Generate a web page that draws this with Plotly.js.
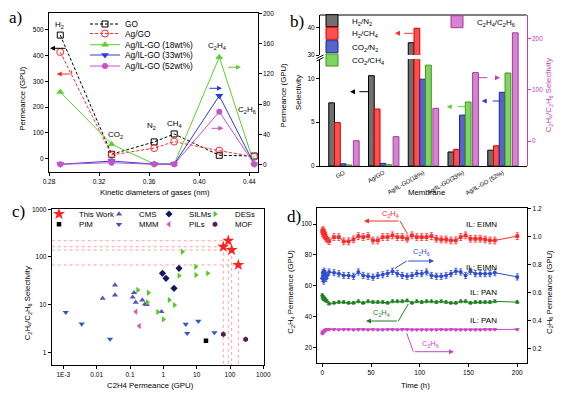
<!DOCTYPE html>
<html><head><meta charset="utf-8">
<script src="https://cdn.plot.ly/plotly-3.0.1.min.js"></script>
<style>html,body{margin:0;padding:0;background:#fff;}#chart{width:568px;height:397px;}</style>
</head><body><div id="chart"></div>
<script>
// ===== Panel a data =====
const gasLabels = ['H2','CO2','N2','CH4','C2H4','C2H6'];
const kineticDiam = [0.289, 0.330, 0.364, 0.380, 0.416, 0.444];
const permGO   = [480, 16, 64, 95, 12, 9];
const permAgGO = [414, 13, 40, 65, 30, 6];
const permIL18 = [96, 27, 1, 1, 142, 0.5];
const permIL33 = [0.5, 4.8, 0.8, 0.8, 91, 0.5];
const permIL52 = [0.5, 2.6, 0.5, 0.5, 70, 0.5];

// ===== Panel b data =====
const membranes = ['GO','Ag/GO','Ag/IL-GO(18%)','Ag/IL-GO(33%)','Ag/IL-GO (52%)'];
const selH2N2    = [7.2, 10.3, 34.5, 1.6, 1.8];
const selH2CH4   = [4.95, 6.5, 39.8, 1.9, 2.3];
const selCO2N2   = [0.25, 0.3, 9.9, 5.8, 8.4];
const selCO2CH4  = [0.12, 0.15, 11.5, 7.3, 10.6];
const selC2H4C2H6 = [0.6, 8.5, 64, 134, 212];

// ===== Panel c data =====
const thisWorkX = [63, 89, 112, 178];
const thisWorkY = [164, 219, 140, 68];
const pimX = [19];    const pimY = [1.75];
const cmsX = [0.0151, 0.0355, 0.0355, 0.132, 0.12, 0.148, 0.234, 0.28, 0.32, 0.88];
const cmsY = [13.6, 25.8, 15.9, 17.8, 14.3, 11.2, 12.5, 10.2, 10.0, 7.1];
const mmmX = [0.00118, 0.00355, 0.0251, 4.7, 5.2, 11.2, 34];
const mmmY = [6.9, 3.93, 1.9, 3.9, 2.5, 4.5, 2.6];
const silmX = [0.94, 1.2, 2.09, 2.95];
const silmY = [45.4, 35.7, 22, 57.8];
const pilX = [0.15, 0.19];
const pilY = [7.1, 3.56];
const desX = [0.17, 0.355, 0.33, 0.68, 1.0, 1.5, 2.15, 2.95, 3.7, 9.3, 9.5, 21.4];
const desY = [20.3, 17.8, 11.2, 7.0, 4.9, 12.5, 9.8, 40.5, 129, 62.5, 41.9, 45.4];
const mofX = [63, 295];
const mofY = [2.39, 1.87];

// ===== Panel d data =====
const timeH = [0,0.5,1,1.5,2,2.5,3,4,5,7,12,17,22,27,32,37,42,47,52,57,62,67,72,77,82,87,92,97,102,107,112,117,122,127,132,137,142,147,152,157,162,167,172,177,200];
const c2h4EIMN = [95.5,94,96,93,94.5,92,93.5,91,90, 89,91.6,91.6,88.8,88.8,90.1,92.2,91.6,92.2,89.4, 89.4,91.6,91.6,92.7,91.6,91.6,90.5,92.7,91.6,91.6, 91.6,92.2,90.5,90,90,89.4,89.5,91.6,92.7,90.5, 90.5,90.5,90,89.4,89.4, 92.2];
const c2h6EIMN = [0.70,0.74,0.72,0.68,0.75,0.71,0.73,0.70,0.72, 0.745,0.74,0.733,0.72,0.72,0.714,0.745,0.72,0.714,0.708, 0.72,0.725,0.735,0.75,0.733,0.72,0.714,0.72,0.735,0.733, 0.745,0.72,0.714,0.714,0.72,0.733,0.75,0.745,0.72,0.75, 0.733,0.733,0.733,0.733,0.74, 0.71];
const c2h4PAN = [54,52.5,53,51.5,52,51,51.5,50.5,50, 48.5,49,49.5,49.5,49,49,50,49,50,49.5, 49.5,49.5,49,50,50,50,50.5,49,50,49.5, 50,50,49.5,50,49.5,49,49,50,50,49, 49.5,49.5,49.5,49.5,50, 49.5];
const c2h6PAN = [0.305,0.31,0.315,0.32,0.32,0.325,0.33,0.333,0.335, 0.335,0.335,0.333,0.335,0.335,0.333,0.335,0.335,0.333,0.335, 0.333,0.333,0.335,0.335,0.333,0.335,0.335,0.333,0.333,0.333, 0.333,0.333,0.333,0.335,0.333,0.335,0.333,0.333,0.333,0.333, 0.333,0.333,0.335,0.335,0.335, 0.335];

// ===== helpers =====
const FONT = '"Liberation Sans", Arial, sans-serif';
const SERIF = '"Liberation Serif", "Times New Roman", serif';
const W = 568, H = 397;
const X = p => p / W;
const Y = p => 1 - p / H;
const RED='#ff2a2a', GREEN='#5ccf33', BLUE='#2b3fcf', PINK='#cc4fcc', BPINK='#c040b8';

function ax(extra) {
  return Object.assign({showgrid:false, zeroline:false, showline:true, linecolor:'#000', linewidth:1,
    ticks:'outside', ticklen:3, tickwidth:1, tickcolor:'#000',
    tickfont:{size:6.5, family:FONT, color:'#000'}, automargin:false, fixedrange:true}, extra);
}
function leg(xpx, ypx, size) {
  return {x:X(xpx), y:Y(ypx), xanchor:'left', yanchor:'middle', bgcolor:'rgba(0,0,0,0)', borderwidth:0,
    font:{family:FONT, size:size||8, color:'#000'}, tracegroupgap:0};
}
const annotations = [];
const shapes = [];
function txt(x, y, text, size, color, angle, family) {
  annotations.push({x:X(x), y:Y(y), xref:'paper', yref:'paper', text:text, showarrow:false,
    font:{family:family||FONT, size:size||8, color:color||'#000'}, textangle:angle||0,
    xanchor:'center', yanchor:'middle'});
}
function head(x0,y0,x1,y1,color) {
  annotations.push({x:X(x1), y:Y(y1), xref:'paper', yref:'paper', ax:x0-x1, ay:y0-y1,
    axref:'pixel', ayref:'pixel', showarrow:true, arrowhead:2, arrowsize:1, arrowwidth:1,
    arrowcolor:color, text:''});
}
function seg(x0,y0,x1,y1,color,dash) {
  shapes.push({type:'line', xref:'paper', yref:'paper', x0:X(x0), y0:Y(y0), x1:X(x1), y1:Y(y1),
    line:{color:color, width:1, dash:dash||'solid'}});
}

const traces = [];
// ===== Panel a traces =====
const dsh = '3px,2px';
traces.push({x:kineticDiam, y:permGO, xaxis:'x', yaxis:'y', mode:'lines+markers', name:'GO', legend:'legend',
  line:{color:'#000', dash:dsh, width:1}, marker:{symbol:'square-open', size:6, color:'#000', line:{width:1}}});
traces.push({x:kineticDiam, y:permAgGO, xaxis:'x', yaxis:'y', mode:'lines+markers', name:'Ag/GO', legend:'legend2',
  line:{color:RED, dash:dsh, width:1}, marker:{symbol:'circle-open', size:7, color:RED, line:{width:1}}});
traces.push({x:kineticDiam, y:permIL18, xaxis:'x', yaxis:'y2', mode:'lines+markers', name:'Ag/IL-GO (18wt%)', legend:'legend3',
  line:{color:GREEN, width:1}, marker:{symbol:'triangle-up', size:7, color:GREEN}});
traces.push({x:kineticDiam, y:permIL33, xaxis:'x', yaxis:'y2', mode:'lines+markers', name:'Ag/IL-GO (33wt%)', legend:'legend4',
  line:{color:BLUE, width:1}, marker:{symbol:'triangle-down', size:7, color:BLUE}});
traces.push({x:kineticDiam, y:permIL52, xaxis:'x', yaxis:'y2', mode:'lines+markers', name:'Ag/IL-GO (52wt%)', legend:'legend5',
  line:{color:PINK, width:1}, marker:{symbol:'circle', size:6, color:PINK}});

// ===== Panel b traces =====
const barW = 0.145;
const barDefs = [
  {y:selH2N2, name:'H<sub>2</sub>/N<sub>2</sub>', fill:'#707070', line:'#000', off:-0.38, lg:'legend6'},
  {y:selH2CH4, name:'H<sub>2</sub>/CH<sub>4</sub>', fill:'#ff5050', line:'#d00000', off:-0.235, lg:'legend7'},
  {y:selCO2N2, name:'CO<sub>2</sub>/N<sub>2</sub>', fill:'#5a64c8', line:'#1f2a8a', off:-0.09, lg:'legend8'},
  {y:selCO2CH4, name:'CO<sub>2</sub>/CH<sub>4</sub>', fill:'#80d460', line:'#3a9a1a', off:0.055, lg:'legend9'}
];
barDefs.forEach(b => {
  traces.push({type:'bar', x:membranes, y:b.y, xaxis:'x2', yaxis:'y3', name:b.name, legend:b.lg,
    width:barW, offset:b.off, marker:{color:b.fill, line:{color:b.line, width:1}}});
  traces.push({type:'bar', x:membranes, y:b.y, xaxis:'x2', yaxis:'y4', name:b.name, showlegend:false,
    width:barW, offset:b.off, marker:{color:b.fill, line:{color:b.line, width:1}}});
});
// bars start at the bottom of the right axis: bar spans base -> base + length
const pinkBase = -49;
traces.push({type:'bar', x:membranes, y:selC2H4C2H6.map(v => v - pinkBase), xaxis:'x2', yaxis:'y5', base:pinkBase,
  name:'C<sub>2</sub>H<sub>4</sub>/C<sub>2</sub>H<sub>6</sub>', legend:'legend10',
  width:barW, offset:0.24, marker:{color:'#d883d2', line:{color:'#a03a9a', width:1}}});

// ===== Panel c traces =====
const xMinC = Math.pow(10,-3.35), yMinC = Math.pow(10,-0.266);
const guideX = [], guideY = [];
thisWorkX.forEach((v,i) => {
  guideX.push(xMinC, v, null, v, v, null);
  guideY.push(thisWorkY[i], thisWorkY[i], null, thisWorkY[i], yMinC, null);
});
traces.push({x:guideX, y:guideY, xaxis:'x3', yaxis:'y6', mode:'lines', showlegend:false,
  line:{color:'#ff8a8a', width:0.8, dash:'dot'}, hoverinfo:'skip'});
function sc(xs, ys, name, sym, color, size, lg) {
  traces.push({x:xs, y:ys, xaxis:'x3', yaxis:'y6', mode:'markers', name:name, legend:lg,
    marker:{symbol:sym, size:size, color:color, line:{width:0}}});
}
sc(pimX, pimY, 'PIM', 'square', '#000', 4.5, 'legend15');
sc(cmsX, cmsY, 'CMS', 'triangle-up', '#5a55b8', 5.5, 'legend12');
sc(mmmX, mmmY, 'MMM', 'triangle-down', '#3355cc', 5.5, 'legend16');
sc(silmX, silmY, 'SILMs', 'diamond', '#151560', 5.5, 'legend13');
sc(pilX, pilY, 'PILs', 'triangle-left', '#dd55bb', 5.5, 'legend17');
sc(desX, desY, 'DESs', 'triangle-right', '#55c820', 5.5, 'legend14');
sc(mofX, mofY, 'MOF', 'hexagon', '#5a1a5a', 5.5, 'legend18');
sc(thisWorkX, thisWorkY, 'This Work', 'star', '#ff2020', 9, 'legend11');

// ===== Panel d traces =====
function ts(ys, yax, color, sym, size, err) {
  traces.push({x:timeH, y:ys, xaxis:'x4', yaxis:yax, mode:'lines+markers', showlegend:false,
    line:{color:color, width:1}, marker:{symbol:sym, size:size, color:color},
    error_y:{type:'constant', value:err, color:color, thickness:0.8, width:1.5}});
}
ts(c2h4EIMN, 'y7', '#ff2a2a', 'square', 3.8, 2.2);
ts(c2h6EIMN, 'y8', '#2f4fd0', 'circle', 4, 0.022);
ts(c2h4PAN, 'y7', '#1f7f1f', 'triangle-up', 4.5, 0.9);
ts(c2h6PAN, 'y8', '#cc44cc', 'triangle-down', 4.5, 0.006);

// ===== annotations =====
txt(15.5, 17, 'a)', 17, '#000', 0, SERIF);
txt(297, 22, 'b)', 17, '#000', 0, SERIF);
txt(18, 212, 'c)', 17, '#000', 0, SERIF);
txt(294, 216, 'd)', 17, '#000', 0, SERIF);
txt(155, 192.7, 'Kinetic diameters of gases (nm)', 7.8);
txt(22.7, 98, 'Permeance (GPU)', 7.8, '#000', -90);
txt(283.5, 95, 'Permeance (GPU)', 7.8, '#000', -90);
txt(298, 93, 'Selectivity', 7.8, '#000', -90);
txt(426.7, 192.7, 'Membrane', 7.8);
txt(549.3, 95, 'C<sub>2</sub>H<sub>4</sub>/C<sub>2</sub>H<sub>6</sub> Selectivity', 7.8, BPINK, -90);
txt(150, 385.7, 'C2H4 Permeance (GPU)', 7.8);
txt(28.3, 303, 'C<sub>2</sub>H<sub>4</sub>/C<sub>2</sub>H<sub>6</sub> Selectivity', 7.8, '#000', -90);
txt(415, 385, 'Time (h)', 7.8);
txt(291, 291.7, 'C<sub>2</sub>H<sub>4</sub> Permeance (GPU)', 7.8, '#000', -90);
txt(549.3, 291.7, 'C<sub>2</sub>H<sub>6</sub> Permeance (GPU)', 7.8, '#000', -90);
txt(59.3, 25, 'H<sub>2</sub>', 8);
txt(115, 135, 'CO<sub>2</sub>', 8);
txt(151.7, 126, 'N<sub>2</sub>', 8);
txt(174, 124, 'CH<sub>4</sub>', 8);
txt(217, 46, 'C<sub>2</sub>H<sub>4</sub>', 8);
txt(246.5, 110, 'C<sub>2</sub>H<sub>6</sub>', 8);
head(67, 48.3, 50, 48.3, '#000');
seg(71.7, 70.5, 71.7, 74, RED);
head(71.7, 74, 56.7, 74, RED);
head(226.7, 67.3, 241, 67.3, GREEN);
head(208, 88.3, 222, 88.3, BLUE);
head(210, 128.3, 223.3, 128.3, PINK);
seg(368.3, 91.7, 353, 91.7, '#000', 'dash'); head(356, 91.7, 350, 91.7, '#000');
seg(413.3, 33.3, 398, 33.3, RED, 'dash'); head(401, 33.3, 395, 33.3, RED);
seg(466.7, 106.7, 450, 106.7, '#5ccf33', 'dash'); head(453, 106.7, 446.7, 106.7, '#5ccf33');
seg(478.3, 77.7, 497, 77.7, BPINK, 'dash'); head(494, 77.7, 500, 77.7, BPINK);
seg(501.7, 101, 485, 101, BLUE, 'dash'); head(488, 101, 481.7, 101, BLUE);
seg(320, 15, 526.7, 15, '#000');
seg(316.5, 58.5, 323.5, 55, '#000');
seg(316.5, 61, 323.5, 57.5, '#000');
seg(407.7, 234.3, 400, 221, '#ff2a2a'); head(400, 221, 364, 221, '#ff2a2a');
txt(390, 214, 'C<sub>2</sub>H<sub>4</sub>', 7.5, '#ff2a2a');
seg(395, 268.3, 406.7, 261, '#2f4fd0'); head(406.7, 261, 434, 261, '#2f4fd0');
txt(421.7, 252.3, 'C<sub>2</sub>H<sub>6</sub>', 7.5, '#2f4fd0');
seg(408.3, 304, 398.3, 321, '#1f7f1f'); head(398.3, 321, 366, 321, '#1f7f1f');
txt(381.7, 313.3, 'C<sub>2</sub>H<sub>4</sub>', 7.5, '#1f7f1f');
seg(406.7, 333.3, 413.3, 351.7, '#cc44cc'); head(413.3, 351.7, 454, 351.7, '#cc44cc');
txt(430, 344.3, 'C<sub>2</sub>H<sub>6</sub>', 7.5, '#cc44cc');
txt(481.7, 224, 'IL: EIMN', 8);
txt(481.7, 267.7, 'IL: EIMN', 8);
txt(483.3, 292.7, 'IL: PAN', 8);
txt(483.3, 320, 'IL: PAN', 8);

const layout = {
  width:W, height:H, autosize:false, margin:{l:0,r:0,t:0,b:0},
  paper_bgcolor:'#fff', plot_bgcolor:'rgba(0,0,0,0)', barmode:'overlay',
  font:{family:FONT, size:8, color:'#000'},
  xaxis: ax({domain:[X(49), X(257.7)], range:[0.28, 0.4467], anchor:'y', tickvals:[0.28,0.32,0.36,0.40,0.44], tickformat:'.2f', mirror:true}),
  yaxis: ax({domain:[Y(171.7), Y(13.3)], range:[-52, 565], anchor:'x', tickvals:[0,100,200,300,400,500]}),
  yaxis2: ax({overlaying:'y', side:'right', anchor:'x', range:[-9.25, 200], tickvals:[0,40,80,120,160,200]}),
  xaxis2: ax({domain:[X(320), X(526.7)], range:[-0.6, 4.6], anchor:'y3', type:'category', tickangle:-30, ticks:'', tickfont:{size:6, family:FONT, color:'#000'}}),
  yaxis3: ax({domain:[Y(166), Y(59)], range:[0, 12.2], anchor:'x2', tickvals:[0,5,10]}),
  yaxis4: ax({domain:[Y(55), Y(15)], range:[30, 44.65], anchor:'x2', tickvals:[30,40]}),
  yaxis5: ax({domain:[Y(166), Y(15)], range:[-49, 247], anchor:'x2', side:'right', tickvals:[0,100,200],
    linecolor:BPINK, tickcolor:BPINK, tickfont:{size:6.5, family:FONT, color:BPINK}}),
  xaxis3: ax({type:'log', domain:[X(51.7), X(264)], range:[-3.35, 3.02], anchor:'y6',
    tickvals:[0.001,0.01,0.1,1,10,100,1000], ticktext:['1E-3','0.01','0.1','1','10','100','1000'], mirror:true}),
  yaxis6: ax({type:'log', domain:[Y(365), Y(209.3)], range:[-0.266, 3.0], anchor:'x3',
    tickvals:[1,10,100,1000], ticktext:['1','10','100','1000'], mirror:true}),
  xaxis4: ax({domain:[X(317.3), X(527.3)], range:[-5.1, 210.3], anchor:'y7', tickvals:[0,50,100,150,200], mirror:true}),
  yaxis7: ax({domain:[Y(362.7), Y(208.3)], range:[10.3, 110.2], anchor:'x4', tickvals:[20,40,60,80,100]}),
  yaxis8: ax({overlaying:'y7', side:'right', anchor:'x4', range:[0.097, 1.2], tickvals:[0.2,0.4,0.6,0.8,1.0,1.2], tickformat:'.1f'}),
  legend: leg(85, 24, 8.3), legend2: leg(85, 33.5, 8.3), legend3: leg(85, 44.7, 8.3),
  legend4: leg(85, 55, 8.3), legend5: leg(85, 66, 8.3),
  legend6: leg(312, 20.7, 8), legend7: leg(312, 33.3, 8), legend8: leg(312, 46.7, 8), legend9: leg(312, 60, 8),
  legend10: leg(437, 21.7, 8),
  legend11: leg(39, 214, 7.8), legend12: leg(99, 214, 7.8), legend13: leg(149, 214, 7.8), legend14: leg(195, 214, 7.8),
  legend15: leg(39, 224.3, 7.8), legend16: leg(99, 224.3, 7.8), legend17: leg(149, 224.3, 7.8), legend18: leg(195, 224.3, 7.8),
  annotations: annotations,
  shapes: shapes
};

Plotly.newPlot('chart', traces, layout, {displayModeBar:false, staticPlot:true});
</script></body></html>
